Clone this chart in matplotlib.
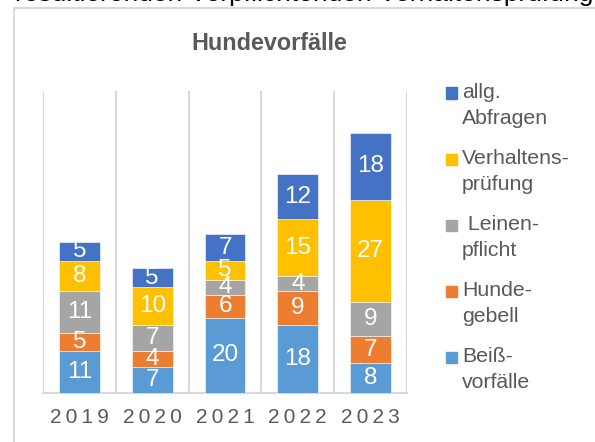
import matplotlib
matplotlib.use("Agg")
import matplotlib.pyplot as plt
from matplotlib.patches import Rectangle
import numpy as np

plt.rcParams['font.family'] = ['Liberation Sans', 'DejaVu Sans']

years = ["2019", "2020", "2021", "2022", "2023"]
series_names = ["Beiß-\nvorfälle", "Hunde-\ngebell", " Leinen-\npflicht",
                "Verhaltens-\nprüfung", "allg.\nAbfragen"]
beissvorfaelle = [11, 7, 20, 18, 8]
hundegebell = [5, 4, 6, 9, 7]
leinenpflicht = [11, 7, 4, 4, 9]
verhaltenspruefung = [8, 10, 5, 15, 27]
allg_abfragen = [5, 5, 7, 12, 18]
series_values = [beissvorfaelle, hundegebell, leinenpflicht,
                 verhaltenspruefung, allg_abfragen]
colors = ["#5B9BD5", "#ED7D31", "#A5A5A5", "#FFC000", "#4472C4"]

W, H = 595, 442
fig = plt.figure(figsize=(W / 100, H / 100), dpi=100)

def fx(px):
    return px / W

def fy(py):
    return 1 - py / H

# chart frame
fig.patches.append(Rectangle((fx(13.5), fy(460)), fx(600), fy(7.5) - fy(460),
                             transform=fig.transFigure, fill=False,
                             edgecolor="#D9D9D9", linewidth=1.5, zorder=0))

# heading text above the chart frame
fig.text(fx(15), fy(0.5), "resultierenden Verpflichtenden Verhaltensprüfung",
         fontsize=19, color="black", ha="left", va="baseline")

ax = fig.add_axes([fx(43), fy(393), fx(407) - fx(43), fy(91) - fy(393)])
x = np.arange(len(years))
bottom = np.zeros(len(years))
for vals, col in zip(series_values, colors):
    vals = np.array(vals, dtype=float)
    ax.bar(x, vals, bottom=bottom, width=0.56, color=col,
           edgecolor="white", linewidth=0.4, zorder=3)
    for xi, b, v in zip(x, bottom, vals):
        ax.text(xi, b + v / 2, f"{int(v)}", ha="center", va="center",
                color="white", fontsize=17.5, zorder=4)
    bottom += vals

ax.set_xlim(-0.5, len(years) - 0.5)
ax.set_ylim(0, 80)
ax.set_yticks([])
ax.set_xticks(x)
ax.set_xticklabels(["\u2009".join(y) for y in years], fontsize=15, color="#595959")
ax.tick_params(axis="x", length=0, pad=11)
for s in ["top", "right", "left"]:
    ax.spines[s].set_visible(False)
ax.spines["bottom"].set_color("#D9D9D9")
ax.spines["bottom"].set_linewidth(1.5)
for b in np.arange(len(years) + 1) - 0.5:
    ax.axvline(b, color="#D9D9D9", linewidth=1.5, zorder=1)

fig.text(fx(269), fy(43), "Hundevorfälle", fontsize=16.8, fontweight="bold",
         color="#595959", ha="center", va="center")

# legend, top entry first
leg_y0 = 93
leg_step = 66
for i, (name, col) in enumerate(zip(series_names[::-1], colors[::-1])):
    yc = leg_y0 + i * leg_step
    fig.patches.append(Rectangle((fx(446), fy(yc + 5.5)), fx(11), fy(yc - 5.5) - fy(yc + 5.5),
                                 transform=fig.transFigure, color=col))
    for j, line in enumerate(name.split("\n")):
        fig.text(fx(462), fy(yc + j * 25), line, fontsize=15.3, color="#595959",
                 ha="left", va="center")

fig.savefig("out.png", dpi=100)
